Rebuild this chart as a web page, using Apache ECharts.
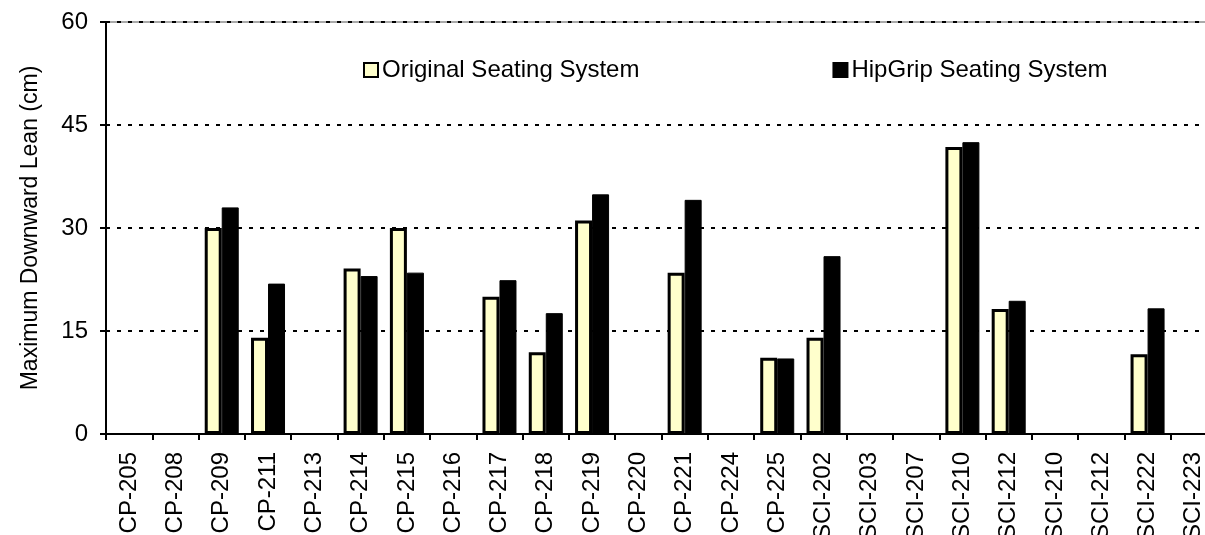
<!DOCTYPE html>
<html>
<head>
<meta charset="utf-8">
<script src="https://cdn.jsdelivr.net/npm/echarts@6/dist/echarts.min.js"></script>
<style>
html,body{margin:0;padding:0;background:#fff;}
#chart{width:1205px;height:535px;}
</style>
</head>
<body>
<div id="chart"></div>
<script>
const categories = ["CP-205","CP-208","CP-209","CP-211","CP-213","CP-214","CP-215","CP-216","CP-217","CP-218","CP-219","CP-220","CP-221","CP-224","CP-225","SCI-202","SCI-203","SCI-207","SCI-210","SCI-212","SCI-210","SCI-212","SCI-222","SCI-223"];
const originalValues = [null,null,30.0,14.0,null,24.1,30.0,null,20.0,11.9,31.1,null,23.5,null,11.1,14.0,null,null,41.8,18.2,null,null,11.6,null];
const hipgripValues = [null,null,33.0,21.9,null,23.0,23.5,null,22.4,17.6,34.9,null,34.1,null,11.0,25.9,null,null,42.5,19.4,null,null,18.3,null];
const yTicks = {min:0, max:60, interval:15};
const seriesNames = ["Original Seating System","HipGrip Seating System"];

const FONT = '"Liberation Sans", Arial, sans-serif';
const chart = echarts.init(document.getElementById('chart'), null, {renderer:'canvas'});
chart.setOption({
  animation:false,
  backgroundColor:'#fff',
  textStyle:{fontFamily:FONT, color:'#000'},
  grid:{left:106, right:-12, top:22, bottom:101, containLabel:false, outerBoundsMode:'none',
        show:true, borderColor:'#555', borderWidth:1, backgroundColor:'transparent'},
  legend:{
    left:358, top:53, itemWidth:14, itemHeight:14, itemGap:193,
    icon:'rect',
    textStyle:{fontFamily:FONT, fontSize:24, color:'#000', padding:[0,0,0,-1]},
    data:seriesNames
  },
  xAxis:{
    type:'category', data:categories,
    axisLine:{lineStyle:{color:'#000', width:2}},
    axisTick:{show:true, length:6, lineStyle:{color:'#000', width:2}},
    axisLabel:{rotate:90, fontSize:24, color:'#000', fontFamily:FONT, margin:18, interval:0}
  },
  yAxis:{
    type:'value', min:yTicks.min, max:yTicks.max, interval:yTicks.interval,
    name:'Maximum Downward Lean (cm)', nameLocation:'middle', nameRotate:90, nameGap:64,
    nameTextStyle:{fontSize:23, color:'#000', fontFamily:FONT},
    axisLine:{show:true, lineStyle:{color:'#000', width:2}},
    axisTick:{show:true, length:6, lineStyle:{color:'#000', width:2}},
    axisLabel:{fontSize:24, color:'#000', fontFamily:FONT, margin:18},
    splitLine:{show:true, lineStyle:{color:'#000', width:2, type:[4,7]}}
  },
  series:[
    {name:seriesNames[0], type:'bar', data:originalValues, barWidth:17, barGap:'0%',
     itemStyle:{color:'#FFFFCC', borderColor:'#000', borderWidth:3}},
    {name:seriesNames[1], type:'bar', data:hipgripValues, barWidth:17,
     itemStyle:{color:'#000', borderColor:'#000', borderWidth:1}}
  ]
});
</script>
</body>
</html>
